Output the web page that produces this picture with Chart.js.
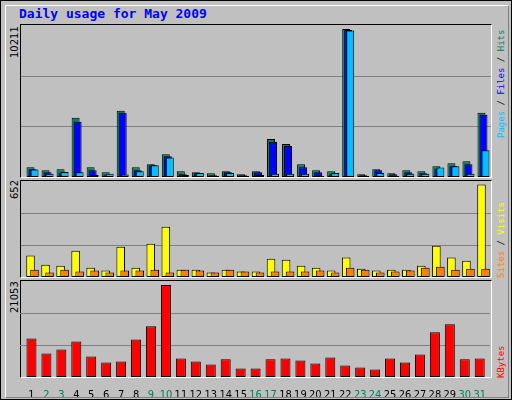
<!DOCTYPE html>
<html><head><meta charset="utf-8">
<script src="https://cdn.jsdelivr.net/npm/chart.js@4"></script>
<style>
body{margin:0;background:#fff}
#frame{position:absolute;left:0;top:0;width:510px;height:398px;background:#c0c0c0;border:1px solid #000}
#inner{position:absolute;left:4px;top:4px;width:502px;height:391px;border-top:1px solid #fff;border-left:1px solid #fff;border-right:1px solid #808080;border-bottom:1px solid #808080}
.panel{position:absolute;left:20px;width:470px;border-top:1px solid #000;border-left:1px solid #000;border-right:1px solid #fff;border-bottom:1px solid #fff}
.t{position:absolute;font-family:"DejaVu Sans Mono",monospace;white-space:nowrap}
.rot{transform-origin:left top;transform:rotate(-90deg)}
canvas{position:absolute;top:0}
</style></head><body>
<div id="frame"><div id="inner"></div></div>
<div class="t" style="left:19px;top:6px;font-size:13px;font-weight:bold;color:#0000ff">Daily usage for May 2009</div>
<div class="t rot" style="left:9px;top:58px;font-size:10px;font-family:'DejaVu Sans';color:#000">10211</div>
<div class="t rot" style="left:9px;top:199px;font-size:10px;font-family:'DejaVu Sans';color:#000">652</div>
<div class="t rot" style="left:9px;top:313px;font-size:10px;font-family:'DejaVu Sans';color:#000">21053</div>
<div class="t rot" style="left:496px;top:138px;font-size:9px"><span style="color:#00c0ff">Pages</span><span style="color:#000"> / </span><span style="color:#0000ff">Files</span><span style="color:#000"> / </span><span style="color:#00805c">Hits</span></div>
<div class="t rot" style="left:496px;top:278px;font-size:9px"><span style="color:#ff8000">Sites</span><span style="color:#000"> / </span><span style="color:#ffff00">Visits</span></div>
<div class="t rot" style="left:496px;top:378px;font-size:9px;color:#ff0000">KBytes</div>
<div class="panel" style="top:24px;height:152px" id="p1"></div>
<div class="panel" style="top:180px;height:96px" id="p2"></div>
<div class="panel" style="top:280px;height:96px"></div>
<div style="position:absolute;left:21px;top:281px;width:470px;height:116px" id="p3"></div>
<script>
const days=['1','2','3','4','5','6','7','8','9','10','11','12','13','14','15','16','17','18','19','20','21','22','23','24','25','26','27','28','29','30','31'];
const weekend=['2','3','9','10','16','17','23','24','30','31'];
const hits=[672,464,534,4083,672,325,4570,672,882,1578,394,325,255,394,186,394,2622,2274,882,464,394,10211,186,534,255,464,394,742,951,1090,4431];
const files=[534,325,255,3805,464,116,4431,464,812,1438,186,255,116,325,116,325,2413,2134,673,325,186,10150,116,464,186,325,255,534,742,882,4292];
const pages=[510,230,350,320,140,230,180,400,810,1340,140,280,70,280,70,140,230,230,230,70,280,10100,70,280,70,230,230,650,740,230,1850];
const visits=[151,87,80,186,66,45,214,66,235,355,52,52,31,52,38,38,129,122,80,66,45,137,59,45,52,52,80,221,137,115,652];
const sites=[52,31,52,38,45,31,45,45,52,31,52,45,31,52,38,31,38,38,38,45,31,66,52,31,38,45,66,73,52,59,59];
const kbytes=[8832,5376,6298,8141,4685,3302,3533,8602,11597,21053,4224,3533,2842,4070,1920,1920,4070,4224,3763,3072,4454,2611,2150,1690,4224,3302,5146,10214,12058,4070,4224];
const maxes=[10211*152/148,652*96/92.4,21053*96/92];

const grid={id:'grid',beforeDatasetsDraw(c,a,o){if(!o.on)return;const y=c.scales.y,ctx=c.ctx;ctx.save();ctx.strokeStyle='#808080';ctx.lineWidth=1;
 for(const f of [1/3,2/3]){const py=Math.round(y.getPixelForValue(y.max*f))+0.5;ctx.beginPath();ctx.moveTo(0,py);ctx.lineTo(c.width,py);ctx.stroke();}ctx.restore();}};
function layer(parent,dx,h,data,color,max,bar,isGrid,showX){
 const cv=document.createElement('canvas');cv.width=470;cv.height=h;cv.style.left=dx+'px';document.getElementById(parent).appendChild(cv);
 return new Chart(cv,{type:'bar',data:{labels:days,datasets:[{data,backgroundColor:color,borderColor:'#000',borderWidth:1,borderSkipped:false,categoryPercentage:1,barPercentage:bar}]},
  options:{responsive:false,animation:false,devicePixelRatio:1,layout:{padding:{left:4,right:0,top:0,bottom:0}},
   plugins:{legend:{display:false},tooltip:{enabled:false},grid:{on:isGrid}},
   scales:{y:{display:false,min:0,max:max},
    x:showX?{grid:{display:false},border:{display:false},afterFit(s){s.height=20;},
     ticks:{padding:4,autoSkip:false,maxRotation:0,font:{family:'DejaVu Sans Condensed',size:11},color:(ctx)=>weekend.includes(days[ctx.index])?'#00805c':'#000'}}:{display:false}}},
  plugins:[grid]});}
layer('p1',0,152,[],'#000',maxes[0],0.5,true,false);
layer('p1',-2,152,hits,'#00805c',maxes[0],0.53,false,false);
layer('p1',0,152,files,'#0000ff',maxes[0],0.53,false,false);
layer('p1',2,152,pages,'#00c0ff',maxes[0],0.53,false,false);
layer('p2',0,96,[],'#000',maxes[1],0.5,true,false);
layer('p2',-2,96,visits,'#ffff00',maxes[1],0.57,false,false);
layer('p2',2,96,sites,'#ff8000',maxes[1],0.57,false,false);
layer('p3',-1,116,kbytes,'#ff0000',maxes[2],0.67,true,true);
</script></body></html>
